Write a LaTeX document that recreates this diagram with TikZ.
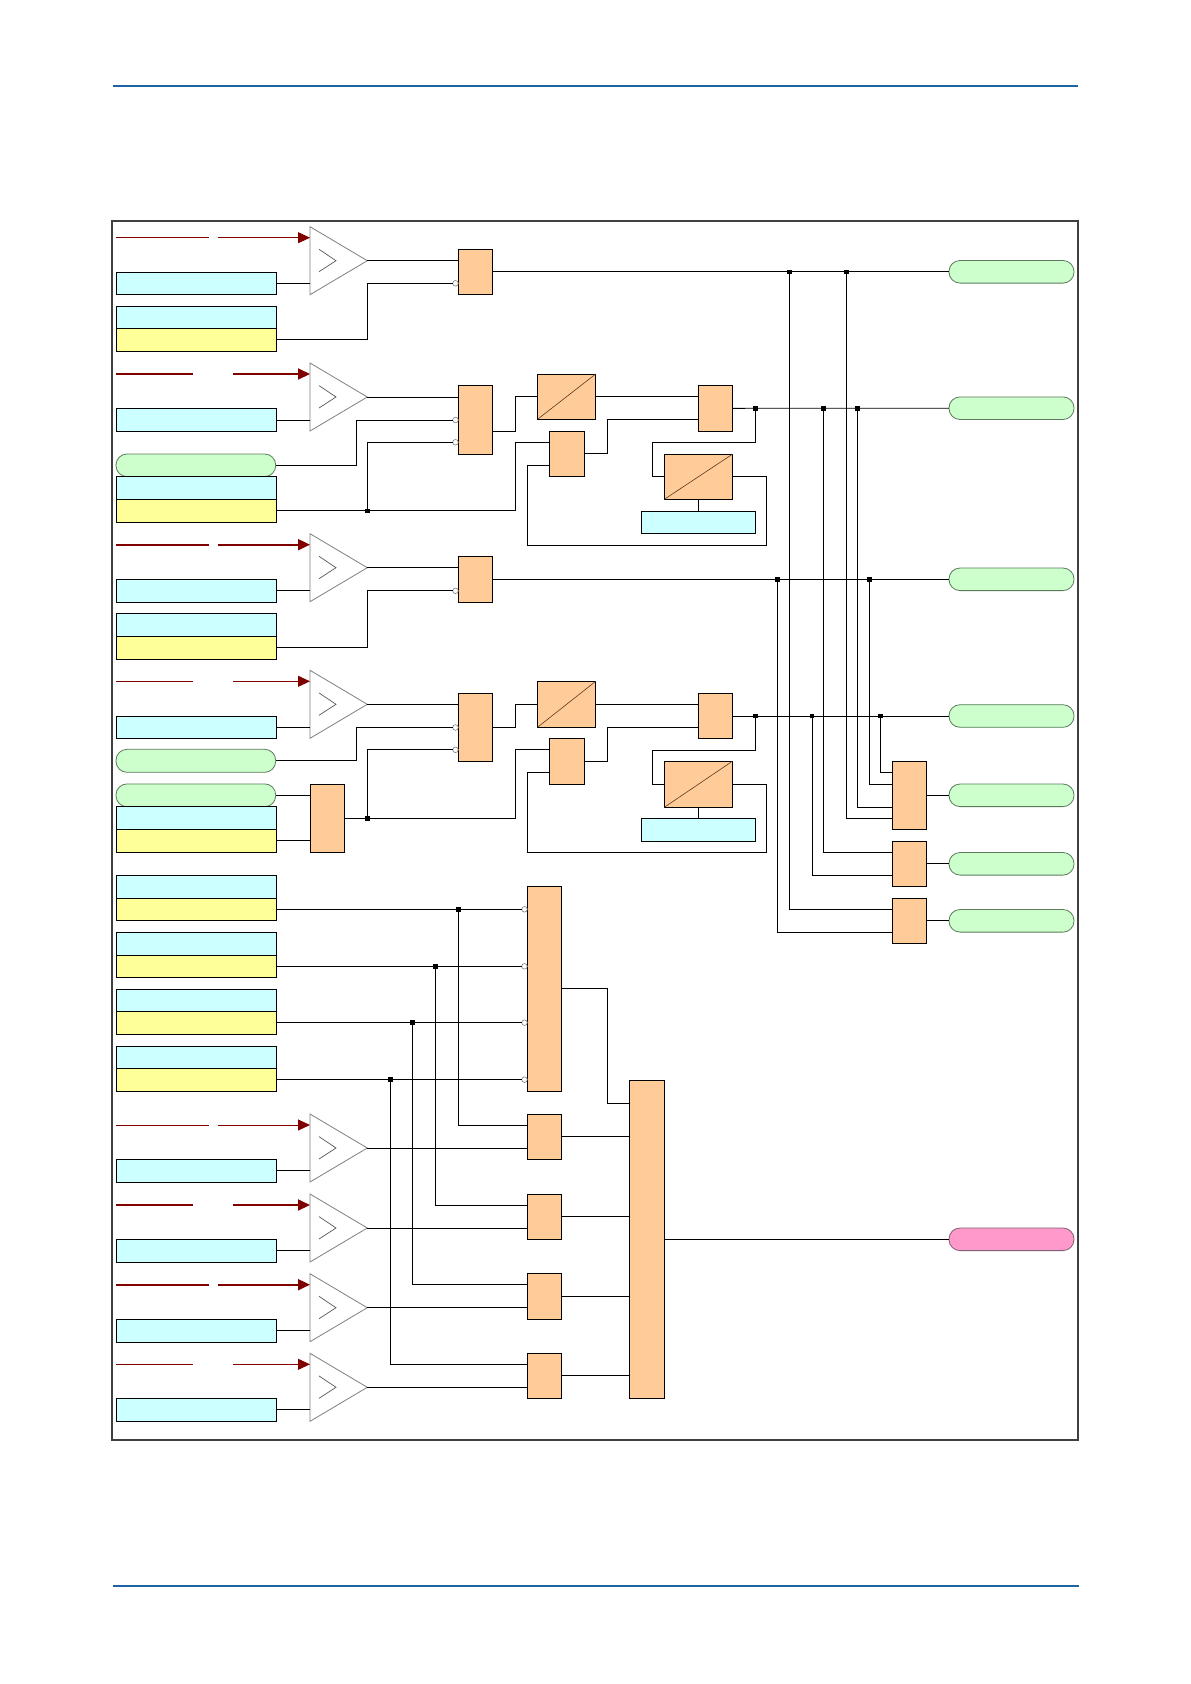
\documentclass[tikz,border=0pt]{standalone}
\usetikzlibrary{arrows.meta,calc}
\definecolor{cyanf}{HTML}{CCFFFF}
\definecolor{yelf}{HTML}{FFFF99}
\definecolor{grnf}{HTML}{CCFFCC}
\definecolor{grnd}{HTML}{5B7B5B}
\definecolor{orgf}{HTML}{FFCC99}
\definecolor{pinkf}{HTML}{FF99CC}
\definecolor{pinkd}{HTML}{806070}
\definecolor{sigred}{HTML}{800000}
\definecolor{hdrblue}{HTML}{1F63A0}
\definecolor{frm}{HTML}{404040}
\definecolor{diagc}{HTML}{5A3A1A}
\newcommand{\mkblk}[6]{\node[#1, minimum width={(#4)-(#2)}, minimum height={(#5)-(#3)}] (#6) at ({((#2)+(#4))/2},{((#3)+(#5))/2}) {};}
\newcommand{\cmpblk}[5]{%
  \coordinate (#1) at (310,{#2+34});
  \coordinate (#1o) at (367.3,{#2+34});
  \draw[cmptri] (310,#2) -- (#1o) -- (310,{#2+68}) -- cycle;
  \draw[cmpsym] (319,{#2+22.6}) -- (336,{#2+34}) -- (319,{#2+45});
  \draw[#3] (116,{#2+11}) -- (#4,{#2+11});
  \draw[#3,-{Triangle[length=12pt,width=11pt]}] (#5,{#2+11}) -- (310,{#2+11});
}
\begin{document}
\begin{tikzpicture}[x=1pt,y=-1pt,
  wire/.style={black, line width=0.9pt},
  blkbase/.style={draw=black, line width=0.9pt, inner sep=0pt, outer sep=0pt, rectangle},
  gatebox/.style={blkbase, fill=orgf},
  cyanbox/.style={blkbase, fill=cyanf},
  yelbox/.style={blkbase, fill=yelf},
  pillg/.style={draw=grnd, fill=grnf, line width=0.8pt, rounded corners=11pt, inner sep=0pt, outer sep=0pt, rectangle},
  pillp/.style={draw=pinkd, fill=pinkf, line width=0.8pt, rounded corners=11pt, inner sep=0pt, outer sep=0pt, rectangle},
  inv/.style={circle, draw=gray, fill=white, line width=0.6pt, minimum size=5.6pt, inner sep=0pt, outer sep=0pt},
  jn/.style={rectangle, fill=black, minimum size=4.5pt, inner sep=0pt},
  sigthin/.style={sigred, line width=1pt},
  sigthick/.style={sigred, line width=2pt},
  cmptri/.style={draw=gray, line width=0.8pt, fill=white, line join=miter},
  cmpsym/.style={draw=gray!70!black, line width=0.7pt},
  diag/.style={diagc, line width=0.6pt},
  rule/.style={hdrblue, line width=2.2pt},
  framest/.style={draw=frm, line width=2pt}
]
\fill[white] (0,0) rectangle (1191,1684);
\useasboundingbox (0,0) rectangle (1191,1684);
\draw[rule] (113,86) -- (1078,86);
\draw[rule] (113,1585.7) -- (1078.5,1585.7);
\draw[framest] (112.3,220.7) rectangle (1078,1439.5);

% ---------------- Row 1
\cmpblk{t1}{226.7}{sigthin}{209}{218.3}
\mkblk{cyanbox}{116}{272.3}{276.3}{294.3}{c1}
\mkblk{cyanbox}{116}{306.7}{276.3}{328.3}{c2}
\mkblk{yelbox}{116}{328.3}{276.3}{351}{y1}
\mkblk{gatebox}{458.3}{249.3}{492.3}{294.3}{g1}
\mkblk{pillg}{949}{260.5}{1074}{283.1}{p1}
\node[inv,anchor=east] (i1) at (g1.west |- c1.east) {};
\draw[wire] (c1.east) -- (c1.east -| t1);
\draw[wire] (t1o) -- (t1o -| g1.west);
\draw[wire] (y1.east) -| (t1o |- i1.west) -- (i1.west);
\draw[wire] (g1.east) -- (p1.west);

% ---------------- Row 2
\cmpblk{t2}{363}{sigthick}{192.7}{233}
\mkblk{cyanbox}{116}{408.7}{276.3}{431.3}{c3}
\mkblk{pillg}{116}{454}{275.7}{476.6}{L1}
\mkblk{cyanbox}{116}{476.6}{276.3}{499.3}{c4}
\mkblk{yelbox}{116}{499.3}{276.3}{522.3}{y2}
\mkblk{gatebox}{458.3}{385.3}{492.3}{454.3}{g2}
\mkblk{gatebox}{537.5}{374}{595.7}{419.3}{d1}
\mkblk{gatebox}{549.3}{431.3}{584.3}{476.3}{s1}
\mkblk{gatebox}{698.3}{385.3}{732.3}{431.3}{g3}
\mkblk{gatebox}{664.3}{454.3}{732.3}{499.3}{d2}
\mkblk{cyanbox}{641.3}{511.3}{755.3}{533.3}{cd2}
\mkblk{pillg}{949}{396.9}{1074}{419.5}{p2}
\draw[diag] (d1.south west) -- (d1.north east);
\draw[diag] (d2.south west) -- (d2.north east);
\node[inv,anchor=east] (i2a) at (g2.west |- c3.east) {};
\node[inv,anchor=east] (i2b) at ($(g2.west)+(0,22.5)$) {};
\draw[wire] (c3.east) -- (c3.east -| t2);
\draw[wire] (t2o) -- (t2o -| g2.west);
\draw[wire] (L1.east) -| (356.3,420) -- (i2a.west);
\node[jn] (j2a) at (367.3,510.8) {};
\draw[wire] (y2.east) -- (j2a.center) -- (515.3,510.8) |- ($(s1.west)+(0,-11.5)$);
\draw[wire] (j2a.center) |- (i2b.west);
\draw[wire] ($(g2.south east)+(0,-23.3)$) -| (515.3,396.65) -- (d1.west);
\draw[wire] (d1.east) -- (d1.east -| g3.west);
\draw[wire] (s1.east) -| (607.3,419.3) -- ($(g3.west)+(0,11)$);
\draw[wire] (d2.east) -| (766.3,545.3) -| (527.7,465.3) -- ($(s1.west)+(0,11.5)$);
\node[jn] (j2b) at (755.3,408.3) {};
\draw[wire] (j2b.center) -- (755.3,442.3) -| (652.3,476.8) -- (d2.west);
\draw[wire] (d2.south) -- (cd2.north);
\draw[wire] (g3.east) -- (p2.west);

% ---------------- Row 3
\cmpblk{t3}{533.7}{sigthick}{209}{218.3}
\mkblk{cyanbox}{116}{579.3}{276.3}{602.3}{c5}
\mkblk{cyanbox}{116}{613.3}{276.3}{636.3}{c6}
\mkblk{yelbox}{116}{636.3}{276.3}{659.3}{y3}
\mkblk{gatebox}{458.3}{556.3}{492.3}{602.3}{g4}
\mkblk{pillg}{949}{568}{1074}{590.6}{p3}
\node[inv,anchor=east] (i4) at (g4.west |- c5.east) {};
\draw[wire] (c5.east) -- (c5.east -| t3);
\draw[wire] (t3o) -- (t3o -| g4.west);
\draw[wire] (y3.east) -| (t3o |- i4.west) -- (i4.west);
\draw[wire] (g4.east) -- (p3.west);

% ---------------- Row 4
\cmpblk{t4}{670.3}{sigthin}{192.7}{233}
\mkblk{cyanbox}{116}{716.3}{276.3}{738.7}{c7}
\mkblk{pillg}{116}{749.3}{275.7}{772.3}{L2}
\mkblk{pillg}{116}{783.9}{275.7}{806.7}{L3}
\mkblk{cyanbox}{116}{806.7}{276.3}{829.3}{c8}
\mkblk{yelbox}{116}{829.3}{276.3}{852.3}{y4}
\mkblk{gatebox}{310.3}{784.3}{344.7}{852.3}{g6}
\mkblk{gatebox}{458.3}{693.3}{492.3}{761.3}{g5}
\mkblk{gatebox}{537.5}{681.3}{595.7}{727.3}{d3}
\mkblk{gatebox}{549.3}{738.3}{584.3}{784.3}{s2}
\mkblk{gatebox}{698.3}{693.3}{732.3}{738.7}{g7}
\mkblk{gatebox}{664.3}{761.3}{732.3}{807.3}{d4}
\mkblk{cyanbox}{641.3}{818.3}{755.3}{841.3}{cd4}
\mkblk{pillg}{949}{704.7}{1074}{727.3}{p4}
\draw[diag] (d3.south west) -- (d3.north east);
\draw[diag] (d4.south west) -- (d4.north east);
\node[inv,anchor=east] (i5a) at (g5.west |- c7.east) {};
\node[inv,anchor=east] (i5b) at ($(g5.west)+(0,22.5)$) {};
\draw[wire] (c7.east) -- (c7.east -| t4);
\draw[wire] (t4o) -- (t4o -| g5.west);
\draw[wire] (L2.east) -| (356.3,727.5) -- (i5a.west);
\draw[wire] (L3.east) -- (L3.east -| g6.west);
\draw[wire] (y4.east) -- (y4.east -| g6.west);
\node[jn] (j4a) at (367.3,818.3) {};
\draw[wire] (g6.east) -- (j4a.center) -- (515.3,818.3) |- ($(s2.west)+(0,-11.5)$);
\draw[wire] (j4a.center) |- (i5b.west);
\draw[wire] (g5.east) -| (515.3,704.3) -- (d3.west);
\draw[wire] (d3.east) -- (d3.east -| g7.west);
\draw[wire] (s2.east) -| (607.3,727.3) -- ($(g7.west)+(0,11.3)$);
\draw[wire] (d4.east) -| (766.3,852.3) -| (527.7,772.8) -- ($(s2.west)+(0,11.5)$);
\node[jn] (j4b) at (755.3,716) {};
\draw[wire] (j4b.center) -- (755.3,750.3) -| (652.3,784.3) -- (d4.west);
\draw[wire] (d4.south) -- (cd4.north);
\draw[wire] (g7.east) -- (p4.west);

% ---------------- right-side gates
\mkblk{gatebox}{892.7}{761.3}{926.3}{829.3}{gA}
\mkblk{gatebox}{892.7}{841.3}{926.3}{886.3}{gB}
\mkblk{gatebox}{892.7}{898.3}{926.3}{943.3}{gC}
\mkblk{pillg}{949}{784}{1074}{806.6}{pA}
\mkblk{pillg}{949}{852.5}{1074}{875.1}{pB}
\mkblk{pillg}{949}{909.5}{1074}{932.1}{pC}
\node[jn] (j1a) at (789.3,271.8) {};
\node[jn] (j1b) at (846.3,271.8) {};
\node[jn] (j2c) at (823.3,408.3) {};
\node[jn] (j2d) at (857.3,408.3) {};
\node[jn] (j3a) at (777.3,579.3) {};
\node[jn] (j3b) at (869.3,579.3) {};
\node[jn] (j4c) at (812,716) {};
\node[jn] (j4d) at (880.3,716) {};
\draw[wire] (j4d.center) |- ($(gA.west)+(0,-23)$);
\draw[wire] (j3b.center) |- ($(gA.west)+(0,-11)$);
\draw[wire] (j2d.center) |- ($(gA.west)+(0,12)$);
\draw[wire] (j1b.center) |- ($(gA.west)+(0,23)$);
\draw[wire] (gA.east) -- (pA.west);
\draw[wire] (j2c.center) |- ($(gB.west)+(0,-11.5)$);
\draw[wire] (j4c.center) |- ($(gB.west)+(0,11.5)$);
\draw[wire] (gB.east) -- (pB.west);
\draw[wire] (j1a.center) |- ($(gC.west)+(0,-11.5)$);
\draw[wire] (j3a.center) |- ($(gC.west)+(0,11.5)$);
\draw[wire] (gC.east) -- (pC.west);

% ---------------- bottom section
\mkblk{cyanbox}{116}{875.3}{276.3}{898.3}{c9}
\mkblk{yelbox}{116}{898.3}{276.3}{920.3}{y9}
\mkblk{cyanbox}{116}{932.3}{276.3}{955.3}{c10}
\mkblk{yelbox}{116}{955.3}{276.3}{977.3}{y10}
\mkblk{cyanbox}{116}{989.3}{276.3}{1011.3}{c11}
\mkblk{yelbox}{116}{1011.3}{276.3}{1034}{y11}
\mkblk{cyanbox}{116}{1046.3}{276.3}{1068.3}{c12}
\mkblk{yelbox}{116}{1068.3}{276.3}{1091}{y12}
\mkblk{gatebox}{527.3}{886}{561.7}{1091.3}{gD}
\mkblk{gatebox}{629.3}{1080.3}{664.5}{1398.3}{gE}
\mkblk{pillp}{949}{1228}{1074}{1250.6}{pk}
\node[inv,anchor=east] (i9) at (gD.west |- y9.east) {};
\node[inv,anchor=east] (i10) at (gD.west |- y10.east) {};
\node[inv,anchor=east] (i11) at (gD.west |- y11.east) {};
\node[inv,anchor=east] (i12) at (gD.west |- y12.east) {};
\draw[wire] (y9.east) -- (i9.west);
\draw[wire] (y10.east) -- (i10.west);
\draw[wire] (y11.east) -- (i11.west);
\draw[wire] (y12.east) -- (i12.west);
\node[jn] (j9) at (458.3,909.3) {};
\node[jn] (j10) at (435.3,966.3) {};
\node[jn] (j11) at (412.3,1022.65) {};
\node[jn] (j12) at (390.3,1079.65) {};
\draw[wire] (gD.east) -| (607.3,1103.3) -- ($(gE.north west)+(0,23)$);

% Row 5
\cmpblk{t5}{1114}{sigthin}{209}{218.3}
\mkblk{cyanbox}{116}{1159.3}{276.3}{1182.3}{c13}
\mkblk{gatebox}{527.3}{1114.3}{561.7}{1159.3}{f1}
\draw[wire] (c13.east) -- (c13.east -| t5);
\draw[wire] (j9.center) |- ($(f1.west)+(0,-11.5)$);
\draw[wire] (t5o) -- (t5o -| f1.west);
\draw[wire] (f1.east) -- (f1.east -| gE.west);
% Row 6
\cmpblk{t6}{1194}{sigthick}{192.7}{233}
\mkblk{cyanbox}{116}{1239.3}{276.3}{1262.3}{c14}
\mkblk{gatebox}{527.3}{1194.3}{561.7}{1239.3}{f2}
\draw[wire] (c14.east) -- (c14.east -| t6);
\draw[wire] (j10.center) |- ($(f2.west)+(0,-11.5)$);
\draw[wire] (t6o) -- (t6o -| f2.west);
\draw[wire] (f2.east) -- (f2.east -| gE.west);
% Row 7
\cmpblk{t7}{1273.7}{sigthick}{209}{218.3}
\mkblk{cyanbox}{116}{1319.3}{276.3}{1342.3}{c15}
\mkblk{gatebox}{527.3}{1273.3}{561.7}{1319.3}{f3}
\draw[wire] (c15.east) -- (c15.east -| t7);
\draw[wire] (j11.center) |- ($(f3.west)+(0,-11.5)$);
\draw[wire] (t7o) -- (t7o -| f3.west);
\draw[wire] (f3.east) -- (f3.east -| gE.west);
% Row 8
\cmpblk{t8}{1353.3}{sigthin}{192.7}{233}
\mkblk{cyanbox}{116}{1398.3}{276.3}{1421.3}{c16}
\mkblk{gatebox}{527.3}{1353.3}{561.7}{1398.3}{f4}
\draw[wire] (c16.east) -- (c16.east -| t8);
\draw[wire] (j12.center) |- ($(f4.west)+(0,-11.5)$);
\draw[wire] (t8o) -- (t8o -| f4.west);
\draw[wire] (f4.east) -- (f4.east -| gE.west);

\draw[wire] (gE.east) -- (pk.west);
\end{tikzpicture}
\end{document}
